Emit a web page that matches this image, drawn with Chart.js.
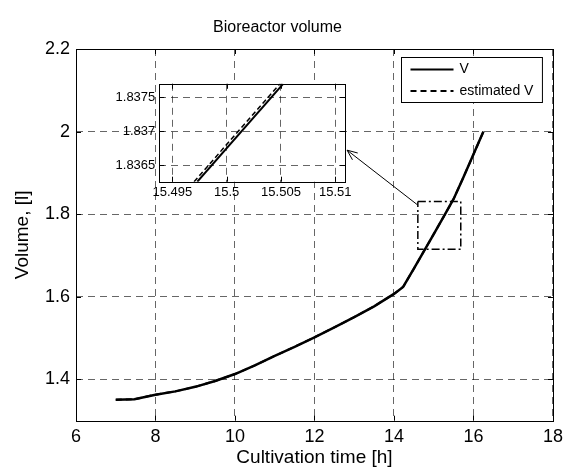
<!DOCTYPE html>
<html>
<head>
<meta charset="utf-8">
<script src="https://cdn.jsdelivr.net/npm/chart.js@4"></script>
<style>
  body { margin: 0; background: #fff; }
  #wrap { position: relative; width: 569px; height: 469px; }
  #main { position: absolute; left: 0; top: 0; }
  #zoom { position: absolute; left: 95px; top: 72px; }
</style>
</head>
<body>
<div id="wrap">
  <canvas id="main" width="569" height="469"></canvas>
  <canvas id="zoom" width="260" height="135"></canvas>
</div>
<script>
// values
const temps = [7, 7.47, 8, 8.5, 9, 9.5, 10, 10.5, 11, 11.5, 12, 12.5, 13, 13.5, 14, 14.23, 14.5, 14.75, 15, 15.25, 15.5, 15.75, 16, 16.25];
const volume = [1.351, 1.352, 1.363, 1.371, 1.382, 1.396, 1.413, 1.434, 1.457, 1.479, 1.502, 1.526, 1.551, 1.577, 1.607, 1.624, 1.668, 1.710, 1.752, 1.794, 1.837, 1.890, 1.945, 2.0];
const volumeEstime = [1.351, 1.352, 1.363, 1.371, 1.382, 1.396, 1.413, 1.434, 1.457, 1.479, 1.502, 1.526, 1.551, 1.577, 1.607, 1.624, 1.668, 1.710, 1.752, 1.794, 1.837, 1.890, 1.945, 2.0];

const xTicks = [6, 8, 10, 12, 14, 16, 18];
const yTicks = [1.4, 1.6, 1.8, 2, 2.2];

// dash-dot zoom rectangle and the arrow pointing to the inset
const rectT = [14.6, 15.68, 15.68, 14.6, 14.6];
const rectV = [1.831, 1.831, 1.715, 1.715, 1.831];
const flecheT = [14.6, 12.82];
const flecheV = [1.822, 1.955];

// inset (zoom around t = 15.5 h)
const zoomTemps = [15.4973, 15.5052];
const zoomVolume = [1.83626, 1.8377];
const zoomTempsEst = [15.4970, 15.5049];
const zoomVolumeEst = [1.83626, 1.8377];
const zoomXTicks = [15.495, 15.5, 15.505, 15.51];
const zoomYTicks = [1.8365, 1.837, 1.8375];

const police = 'Liberation Sans, Arial, sans-serif';
Chart.defaults.font.family = police;
Chart.defaults.color = '#000';

function points(xs, ys) {
  return xs.map((x, i) => ({ x: x, y: ys[i] }));
}

function label(v) {
  return String(Number(Number(v).toFixed(4)));
}

const grille = { color: 'rgba(0,0,0,0.6)', drawTicks: false, lineWidth: 1 };
const bordure = { display: false, dash: [7, 5] };

// black frame with inward ticks, like matlab axes
const cadre = {
  id: 'cadre',
  beforeDraw(chart) {
    if (!chart.options.fondBlanc) return;
    const a = chart.chartArea;
    chart.ctx.save();
    chart.ctx.fillStyle = '#fff';
    chart.ctx.fillRect(a.left, a.top, a.right - a.left, a.bottom - a.top);
    chart.ctx.restore();
  },
  afterDatasetsDraw(chart) {
    const ctx = chart.ctx;
    const a = chart.chartArea;
    const t = 5;
    ctx.save();
    ctx.strokeStyle = '#000';
    ctx.lineWidth = 1;
    ctx.setLineDash([]);
    ctx.beginPath();
    chart.scales.x.ticks.forEach(tk => {
      const px = Math.round(chart.scales.x.getPixelForValue(tk.value)) + 0.5;
      ctx.moveTo(px, a.bottom); ctx.lineTo(px, a.bottom - t);
      ctx.moveTo(px, a.top); ctx.lineTo(px, a.top + t);
    });
    chart.scales.y.ticks.forEach(tk => {
      const py = Math.round(chart.scales.y.getPixelForValue(tk.value)) + 0.5;
      ctx.moveTo(a.left, py); ctx.lineTo(a.left + t, py);
      ctx.moveTo(a.right, py); ctx.lineTo(a.right - t, py);
    });
    ctx.stroke();
    ctx.strokeRect(Math.round(a.left) + 0.5, Math.round(a.top) + 0.5,
      Math.round(a.right - a.left), Math.round(a.bottom - a.top));
    ctx.restore();
  }
};

// legend box in the top right corner
const legendeBoite = {
  id: 'legendeBoite',
  afterDraw(chart) {
    const ctx = chart.ctx;
    const a = chart.chartArea;
    const items = chart.data.datasets.filter(d => d.label);
    ctx.save();
    ctx.font = '14px ' + police;
    let maxW = 0;
    items.forEach(d => { maxW = Math.max(maxW, ctx.measureText(d.label).width); });
    const w = 9 + 43 + 6 + maxW + 9;
    const h = 45;
    const x0 = Math.round(a.right - 11 - w) + 0.5;
    const y0 = Math.round(a.top + 8) + 0.5;
    ctx.fillStyle = '#fff';
    ctx.fillRect(x0, y0, w, h);
    ctx.strokeStyle = '#000';
    ctx.lineWidth = 1;
    ctx.strokeRect(x0, y0, w, h);
    items.forEach((d, i) => {
      const y = y0 + 12 + i * 21.5;
      ctx.beginPath();
      ctx.setLineDash(d.borderDash || []);
      ctx.lineWidth = 2;
      ctx.strokeStyle = d.borderColor;
      ctx.moveTo(x0 + 9, y);
      ctx.lineTo(x0 + 52, y);
      ctx.stroke();
      ctx.setLineDash([]);
      ctx.fillStyle = '#000';
      ctx.textBaseline = 'middle';
      ctx.fillText(d.label, x0 + 58, y);
    });
    ctx.restore();
  }
};

const fleche = {
  id: 'fleche',
  afterDatasetsDraw(chart) {
    const ctx = chart.ctx;
    const x1 = chart.scales.x.getPixelForValue(flecheT[0]);
    const y1 = chart.scales.y.getPixelForValue(flecheV[0]);
    const x2 = chart.scales.x.getPixelForValue(flecheT[1]);
    const y2 = chart.scales.y.getPixelForValue(flecheV[1]);
    const ang = Math.atan2(y2 - y1, x2 - x1);
    ctx.save();
    ctx.strokeStyle = '#000';
    ctx.lineWidth = 1;
    ctx.beginPath();
    ctx.moveTo(x1, y1);
    ctx.lineTo(x2, y2);
    ctx.moveTo(x2 - 11 * Math.cos(ang - 0.4), y2 - 11 * Math.sin(ang - 0.4));
    ctx.lineTo(x2, y2);
    ctx.lineTo(x2 - 11 * Math.cos(ang + 0.4), y2 - 11 * Math.sin(ang + 0.4));
    ctx.stroke();
    ctx.restore();
  }
};

new Chart(document.getElementById('main'), {
  type: 'line',
  data: {
    datasets: [
      {
        label: 'V',
        data: points(temps, volume),
        borderColor: '#000',
        borderWidth: 2.5,
        pointRadius: 0,
        tension: 0
      },
      {
        label: 'estimated V',
        data: points(temps, volumeEstime),
        borderColor: '#000',
        borderWidth: 2,
        borderDash: [6, 4],
        pointRadius: 0,
        tension: 0
      },
      {
        data: points(rectT, rectV),
        borderColor: '#000',
        borderWidth: 1.5,
        borderDash: [8, 3, 2, 3],
        pointRadius: 0,
        tension: 0
      }
    ]
  },
  options: {
    responsive: false,
    animation: false,
    layout: { padding: { left: 0, right: 14, top: 0, bottom: 0 } },
    plugins: {
      legend: { display: false },
      tooltip: { enabled: false },
      title: {
        display: true,
        text: 'Bioreactor volume',
        color: '#000',
        font: { size: 16, weight: 'normal' },
        padding: { top: 18, bottom: 11.8 }
      }
    },
    scales: {
      x: {
        type: 'linear',
        min: 6,
        max: 18,
        afterBuildTicks: s => { s.ticks = xTicks.map(v => ({ value: v })); },
        afterFit: s => { s.height = 48.3; },
        ticks: { font: { size: 18 }, padding: 6, callback: label, maxRotation: 0 },
        grid: grille,
        border: bordure,
        title: { display: true, text: 'Cultivation time [h]', font: { size: 19 }, padding: { top: 0, bottom: 0 } }
      },
      y: {
        min: 1.3,
        max: 2.2,
        afterBuildTicks: s => { s.ticks = yTicks.map(v => ({ value: v })); },
        afterFit: s => { s.width = 76; },
        ticks: { font: { size: 18 }, padding: 6, callback: label },
        grid: grille,
        border: bordure,
        title: { display: true, text: 'Volume, [l]', font: { size: 19 }, padding: { top: 11.6, bottom: 0 } }
      }
    }
  },
  plugins: [cadre, fleche, legendeBoite]
});

// inset chart, drawn over the main one
new Chart(document.getElementById('zoom'), {
  type: 'line',
  data: {
    datasets: [
      {
        data: points(zoomTemps, zoomVolume),
        borderColor: '#000',
        borderWidth: 2,
        pointRadius: 0
      },
      {
        data: points(zoomTempsEst, zoomVolumeEst),
        borderColor: '#000',
        borderWidth: 1.5,
        borderDash: [5, 3],
        pointRadius: 0
      }
    ]
  },
  options: {
    responsive: false,
    animation: false,
    fondBlanc: true,
    layout: { padding: { left: 0, right: 8.3, top: 8, bottom: 0 } },
    plugins: { legend: { display: false }, tooltip: { enabled: false } },
    scales: {
      x: {
        type: 'linear',
        min: 15.4938,
        max: 15.5109,
        afterBuildTicks: s => { s.ticks = zoomXTicks.map(v => ({ value: v })); },
        afterFit: s => { s.height = 25.3; },
        ticks: { font: { size: 13 }, padding: 3, callback: label, maxRotation: 0 },
        grid: grille,
        border: bordure
      },
      y: {
        min: 1.83626,
        max: 1.8377,
        afterBuildTicks: s => { s.ticks = zoomYTicks.map(v => ({ value: v })); },
        afterFit: s => { s.width = 64.3; },
        ticks: { font: { size: 13 }, padding: 4, callback: label },
        grid: grille,
        border: bordure
      }
    }
  },
  plugins: [cadre]
});
</script>
</body>
</html>
